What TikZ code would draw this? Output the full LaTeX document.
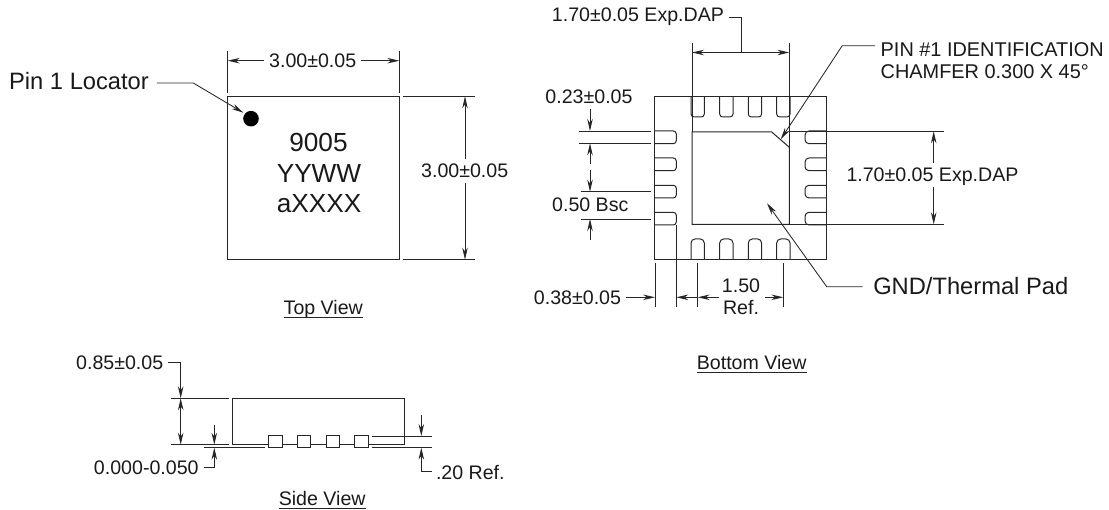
\documentclass[tikz,border=0pt]{standalone}
\usepackage{fontspec}
\setmainfont{Liberation Sans}
\usetikzlibrary{arrows.meta}
\tikzset{
  outline/.style={line width=1pt, draw=black!85},
  thinline/.style={line width=0.85pt, draw=black!85},
  lbl/.style={font=\fontsize{19.6}{22}\selectfont, text=black!90, inner sep=0pt, outer sep=5pt, text height=14pt, text depth=0pt},
  biglbl/.style={lbl, font=\fontsize{23.7}{26}\selectfont, text height=17pt},
  marklbl/.style={lbl, font=\fontsize{26.2}{28}\selectfont, text height=18.8pt, outer sep=0pt},
  chamlbl/.style={lbl, font=\fontsize{19.9}{22}\selectfont, anchor=west, outer sep=0pt},
  viewlbl/.style={lbl, outer sep=0pt, text depth=3pt}
}

\begin{document}
\begin{tikzpicture}[x=1pt, y=-1pt, >={Stealth[length=12pt, width=5.5pt]}]
        \useasboundingbox (0,0) rectangle (1109,510);

        % top view
        \draw[outline] (227.7,96.3) rectangle (399.3,259.7);
        \fill[black] (251,118.7) circle (7.8pt);
        \node[marklbl] (mark1) at (318.5,142) {9005};
        \node[marklbl] (mark2) at (319,172.7) {YYWW};
        \node[marklbl] (mark3) at (319,202.7) {aXXXX};
        \draw[thinline] (227.7,51) -- (227.7,92.7);
        \draw[thinline] (399.3,51) -- (399.3,92.7);
        \draw[thinline] (403.3,96.3) -- (475,96.3);
        \draw[thinline] (403.3,259.7) -- (475,259.7);
        \coordinate (topl) at (227.7,60.7);
        \coordinate (topr) at (399.3,60.7);
        \coordinate (sidet) at (465,96.3);
        \coordinate (sideb) at (465,259.7);
        \node[lbl] (topw) at (312.7,60.7) {3.00±0.05};
        \node[lbl] (toph) at (464.7,170.7) {3.00±0.05};
        \draw[thinline, ->] (topw) -- (topl);
        \draw[thinline, ->] (topw) -- (topr);
        \draw[thinline, ->] (toph.north -| sidet) -- (sidet);
        \draw[thinline, ->] (toph.south -| sideb) -- (sideb);
        \node[biglbl, outer sep=8pt] (pinloc) at (79,81.3) {Pin 1 Locator};
        \coordinate (pinbend) at (193.3,83);
        \coordinate (pintip) at (243.3,112.7);
        \draw[thinline, ->] (pinloc.east |- pinbend) -- (pinbend) -- (pintip);
        \node[viewlbl] (topview) at (323.3,309.2) {Top View};
        \draw[thinline] (topview.south west) -- (topview.south east);

        % bottom view
        \draw[outline] (654.7,96.7) rectangle (826,259.3);
        \draw[outline] (771.7,132) -- (692,132) -- (692,224.3) -- (789.3,224.3) -- (789.3,147.3) -- cycle;
        \foreach \x in {691, 719.7, 748.3, 776.7} {
          \draw[outline, rounded corners=3pt] (\x,96.7) -- (\x,117) -- (\x+13.3,117) -- (\x+13.3,96.7);
          \draw[outline, rounded corners=4pt] (\x,259.3) -- (\x,239) -- (\x+13.3,239) -- (\x+13.3,259.3);
        }
        \foreach \y in {131, 158, 185.3, 212.3} {
          \draw[outline, rounded corners=3pt] (654.7,\y) -- (676.3,\y) -- (676.3,\y+12.7) -- (654.7,\y+12.7);
          \draw[outline, rounded corners=4pt] (826,\y) -- (805,\y) -- (805,\y+12.7) -- (826,\y+12.7);
        }
        \draw[thinline] (692,43) -- (692,132);
        \draw[thinline] (789.3,43) -- (789.3,147.3);
        \draw[thinline] (789.3,131.3) -- (944,131.3);
        \draw[thinline] (790,224.3) -- (944,224.3);
        \draw[thinline] (579.3,131) -- (650.7,131);
        \draw[thinline] (579.3,143.3) -- (650.7,143.3);
        \draw[thinline] (580.7,191.7) -- (650.7,191.7);
        \draw[thinline] (580.7,219) -- (650.7,219);
        \draw[thinline] (655,263.3) -- (655,307.3);
        \draw[thinline] (676.3,225) -- (676.3,307.3);
        \draw[thinline] (697.7,262.7) -- (697.7,307.3);
        \draw[thinline] (783.3,262.7) -- (783.3,307.3);

        \node[lbl] (dapw) at (638,15) {1.70±0.05 Exp.DAP};
        \coordinate (dapbend) at (741,17);
        \coordinate (dapmid) at (741,52.5);
        \coordinate (dapl) at (692,52.5);
        \coordinate (dapr) at (789.3,52.5);
        \draw[thinline] (dapw.east |- dapbend) -- (dapbend) -- (dapmid);
        \draw[thinline, ->] (dapmid) -- (dapl);
        \draw[thinline, ->] (dapmid) -- (dapr);

        \node[chamlbl] (chamfer1) at (880.7,50) {PIN \#1 IDENTIFICATION};
        \node[chamlbl] (chamfer2) at (880.7,71.7) {CHAMFER 0.300 X 45°};
        \coordinate (chamstart) at (875,45.7);
        \coordinate (chambend) at (842.2,45.7);
        \coordinate (chamtip) at (780.7,139.3);
        \draw[thinline, ->] (chamstart) -- (chambend) -- (chamtip);

        \node[lbl] (daph) at (932.5,175) {1.70±0.05 Exp.DAP};
        \coordinate (daptop) at (933.7,131.3);
        \coordinate (dapbot) at (933.7,224.3);
        \draw[thinline, ->] (daph.north -| daptop) -- (daptop);
        \draw[thinline, ->] (daph.south -| dapbot) -- (dapbot);

        \node[biglbl, anchor=west, outer sep=0pt] (gnd) at (873.3,286) {GND/Thermal Pad};
        \coordinate (gndstart) at (862.5,286.7);
        \coordinate (gndbend) at (826.7,286.7);
        \coordinate (gndtip) at (767,203.3);
        \draw[thinline, ->] (gndstart) -- (gndbend) -- (gndtip);

        \node[lbl] (pinw) at (589,97) {0.23±0.05};
        \coordinate (pinwa) at (590,131);
        \coordinate (pinwb) at (590,143.3);
        \coordinate (pinwc) at (590,164);
        \draw[thinline, ->] (pinw.south -| pinwa) -- (pinwa);
        \draw[thinline, ->] (pinwc) -- (pinwb);
        \node[lbl] (bsc) at (590.3,205) {0.50 Bsc};
        \coordinate (bsca) at (590,170);
        \coordinate (bscb) at (590,191.7);
        \coordinate (bscc) at (590,219);
        \coordinate (bscd) at (590,240);
        \draw[thinline, ->] (bsca) -- (bscb);
        \draw[thinline, ->] (bscd) -- (bscc);

        \node[lbl] (padw) at (577.5,298) {0.38±0.05};
        \coordinate (padwa) at (655,297.3);
        \coordinate (padwb) at (676.3,297.3);
        \draw[thinline, ->] (padw.east |- padwa) -- (padwa);
        \node[lbl, outer sep=0pt] (ref1) at (741,285.7) {1.50};
        \node[lbl, outer sep=0pt] (ref2) at (741,308) {Ref.};
        \coordinate (refa) at (697.7,297.3);
        \coordinate (refb) at (719,297.3);
        \coordinate (refc) at (783.3,297.3);
        \coordinate (refd) at (765,297.3);
        \draw[thinline, ->] (refa) -- (padwb);
        \draw[thinline, ->] (refb) -- (refa);
        \draw[thinline, ->] (refd) -- (refc);
        \node[viewlbl] (bottomview) at (751.7,363.8) {Bottom View};
        \draw[thinline] (bottomview.south west) -- (bottomview.south east);

        % side view
        \draw[outline] (232.3,444.7) -- (232.3,398.3) -- (404.3,398.3) -- (404.3,444.7) -- cycle;
        \foreach \x in {268.7, 297.3, 326, 354.7} {
          \draw[outline, fill=white] (\x,436) rectangle (\x+13.6,447.7);
        }
        \draw[thinline] (170.7,398.3) -- (229,398.3);
        \draw[thinline] (170.7,444.7) -- (229,444.7);
        \draw[thinline] (204.3,447.7) -- (265,447.7);
        \draw[thinline] (371.7,447.7) -- (431.7,447.7);
        \draw[thinline] (371.7,436) -- (431.7,436);

        \node[lbl] (height) at (119.7,362.5) {0.85±0.05};
        \coordinate (heightbend) at (180.7,362.5);
        \coordinate (heightmid) at (180.7,420);
        \coordinate (heightt) at (180.7,398.3);
        \coordinate (heightb) at (180.7,444.7);
        \draw[thinline, ->] (height.east) -- (heightbend) -- (heightt);
        \draw[thinline, ->] (heightmid) -- (heightt);
        \draw[thinline, ->] (heightmid) -- (heightb);

        \node[lbl] (gap) at (146.3,467.3) {0.000-0.050};
        \coordinate (gapbend) at (214.3,467.3);
        \coordinate (gapa) at (214.3,444.7);
        \coordinate (gapb) at (214.3,447.7);
        \coordinate (gapc) at (214.3,425);
        \draw[thinline, ->] (gapc) -- (gapa);
        \draw[thinline, ->] (gap.east) -- (gapbend) -- (gapb);

        \node[lbl, anchor=west, outer sep=0pt] (lead) at (436,472.3) {.20 Ref.};
        \coordinate (leadbend) at (421.3,471.7);
        \coordinate (leadend) at (431.7,471.7);
        \coordinate (leada) at (421.3,436);
        \coordinate (leadb) at (421.3,447.7);
        \coordinate (leadc) at (421.3,415);
        \draw[thinline, ->] (leadc) -- (leada);
        \draw[thinline, ->] (leadend) -- (leadbend) -- (leadb);
        \node[viewlbl] (sideview) at (322.2,499.8) {Side View};
        \draw[thinline] (sideview.south west) -- (sideview.south east);
      \end{tikzpicture}
\end{document}
